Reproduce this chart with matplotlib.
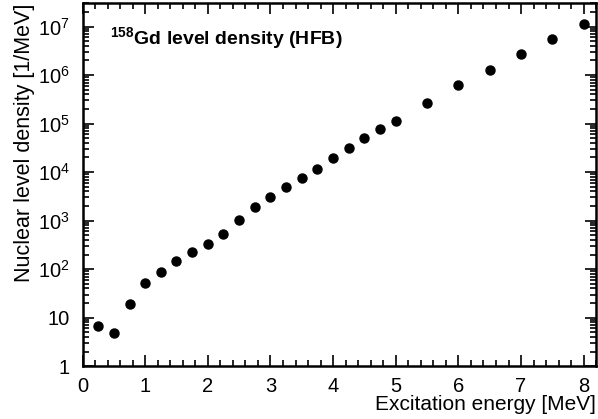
import matplotlib
matplotlib.use("Agg")
import matplotlib.pyplot as plt
from matplotlib.ticker import FixedLocator, FixedFormatter, LogLocator, MultipleLocator, NullFormatter

plt.rcParams["font.family"] = ["Liberation Sans", "DejaVu Sans"]
plt.rcParams["mathtext.fontset"] = "custom"
plt.rcParams["mathtext.rm"] = "Liberation Sans"
plt.rcParams["mathtext.bf"] = "Liberation Sans:bold"

# excitation energy [MeV] and level density [1/MeV]
energy = [0.25, 0.5, 0.75, 1.0, 1.25, 1.5, 1.75, 2.0, 2.25, 2.5, 2.75, 3.0, 3.25,
          3.5, 3.75, 4.0, 4.25, 4.5, 4.75, 5.0, 5.5, 6.0, 6.5, 7.0, 7.5, 8.0]
density = [6.7, 4.8, 19, 52, 88, 148, 227, 333, 533, 1040, 1950, 3100, 5000,
           7600, 11800, 19800, 32000, 51000, 79000, 115000, 270000, 610000,
           1.3e6, 2.7e6, 5.5e6, 1.1e7]

ytick_vals = [1, 10, 1e2, 1e3, 1e4, 1e5, 1e6, 1e7]
ytick_labels = ["1", "10", "$10^2$", "$10^3$", "$10^4$", "$10^5$", "$10^6$", "$10^7$"]

fig = plt.figure(figsize=(5.98, 4.19), dpi=100)
ax = fig.add_axes([0.138, 0.126, 0.859, 0.866])

ax.plot(energy, density, "o", color="black", markersize=6.5, linestyle="none")

ax.set_yscale("log")
ax.set_xlim(0, 8.2)
ax.set_ylim(1, 3e7)

ax.xaxis.set_major_locator(MultipleLocator(1))
ax.xaxis.set_minor_locator(MultipleLocator(0.2))
ax.yaxis.set_major_locator(FixedLocator(ytick_vals))
ax.yaxis.set_major_formatter(FixedFormatter(ytick_labels))
ax.yaxis.set_minor_locator(LogLocator(base=10, subs=range(2, 10)))
ax.yaxis.set_minor_formatter(NullFormatter())

ax.tick_params(which="both", direction="in", top=True, right=True, width=1.2,
               labelsize=14.5, colors="black")
ax.tick_params(which="major", length=8)
ax.tick_params(which="minor", length=4)
ax.tick_params(axis="x", which="major", pad=8)
ax.tick_params(axis="y", which="major", pad=9)
for s in ax.spines.values():
    s.set_linewidth(1.8)

ax.set_xlabel("Excitation energy [MeV]", fontsize=15, loc="right", labelpad=-1)
ax.set_ylabel("Nuclear level density [1/MeV]", fontsize=15.5, loc="top", labelpad=2)

ax.text(0.053, 0.885, r"$^{\mathbf{158}}$Gd level density (HFB)", transform=ax.transAxes,
        fontsize=14, fontweight="bold", va="baseline")

fig.savefig("out.png", dpi=100)
